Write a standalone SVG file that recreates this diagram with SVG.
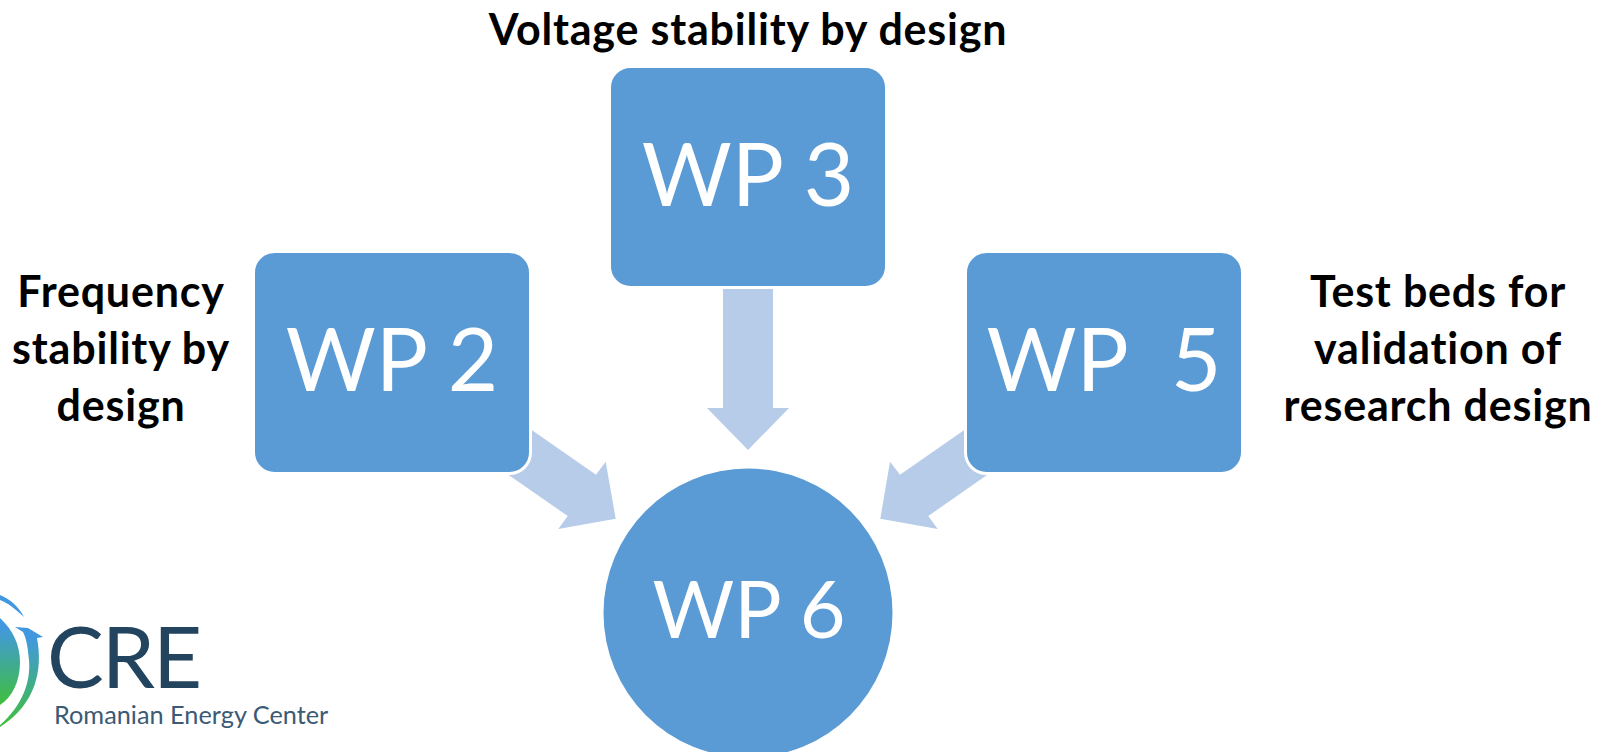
<svg xmlns="http://www.w3.org/2000/svg" width="1606" height="752" viewBox="0 0 1606 752">
<style>
.n{fill:#5b9bd5}
.r{stroke:#fff;stroke-width:3}
.a{fill:#b7cce9}
.w{font-family:"Lato","Liberation Sans",sans-serif;font-size:87px;fill:#fff;text-anchor:middle}
.l{font-family:"Lato","Liberation Sans",sans-serif;font-weight:700;font-size:43px;letter-spacing:.8px;fill:#000;text-anchor:middle}
</style>
<defs>
<linearGradient id="g" x1="0" y1="0" x2="0" y2="1"><stop offset="0.1" stop-color="#4298e0"/><stop offset="1" stop-color="#3fbf3c"/></linearGradient>
</defs>
<rect width="1606" height="752" fill="#fff"/>
<g id="connectors">
<polygon class="a" points="723,289 773,289 773,408 789,408 748,450 707,408 723,408"/>
<polygon class="a" points="520,425 531.700,430 596,474.700 605.700,461.700 615.700,518.700 558.300,529 567.700,516 508.300,474.700 500,460"/>
<polygon class="a" points="976,425 964.300,430 900,474.700 890,461.700 880.300,518.700 937.700,529 928.300,516 987.300,474.700 996,460"/>
</g>
<g id="wp3"><rect class="n r" x="609.500" y="66.500" width="277" height="221" rx="21"/><text class="w" x="748" y="205.500">WP 3</text></g>
<g id="wp2"><rect class="n r" x="253.500" y="251.500" width="277" height="222" rx="21"/><text class="w" x="392" y="391">WP 2</text></g>
<g id="wp5"><rect class="n r" x="965.500" y="251.500" width="277" height="222" rx="21"/><text class="w" x="1104" y="391" xml:space="preserve">WP  5</text></g>
<g id="wp6"><circle class="n" cx="748" cy="613" r="144.500"/><text class="w" x="749" y="638" style="font-size:79px">WP 6</text></g>
<g id="labels">
<text class="l" x="748" y="45">Voltage stability by design</text>
<text class="l" x="121" y="307">Frequency</text>
<text class="l" x="121" y="364">stability by</text>
<text class="l" x="121" y="421">design</text>
<text class="l" x="1438" y="307">Test beds for</text>
<text class="l" x="1438" y="364">validation of</text>
<text class="l" x="1438" y="421">research design</text>
</g>
<g id="logo">
<path fill="#4298e0" d="M0,595 C10,599 19,607 24,617 C14,608 8,603 0,600Z"/>
<path fill="url(#g)" d="M0,618 C13,630 20,645 20,662 C20,682 12,697 0,705Z"/>
<path fill="url(#g)" d="M15,627 L28,628 L43,637 L37,638 C43,670 36,704 0,727 L0,725 C22,706 31,682 29,660 C28,650 27,640 23,632Z"/>
<text x="47" y="688" font-family="Lato,'Liberation Sans',sans-serif" font-size="85" letter-spacing="-2" fill="#23445f">CRE</text>
<text x="54" y="724" font-family="Lato,'Liberation Sans',sans-serif" font-size="25.300" fill="#3b5a75">Romanian Energy Center</text>
</g>
</svg>
